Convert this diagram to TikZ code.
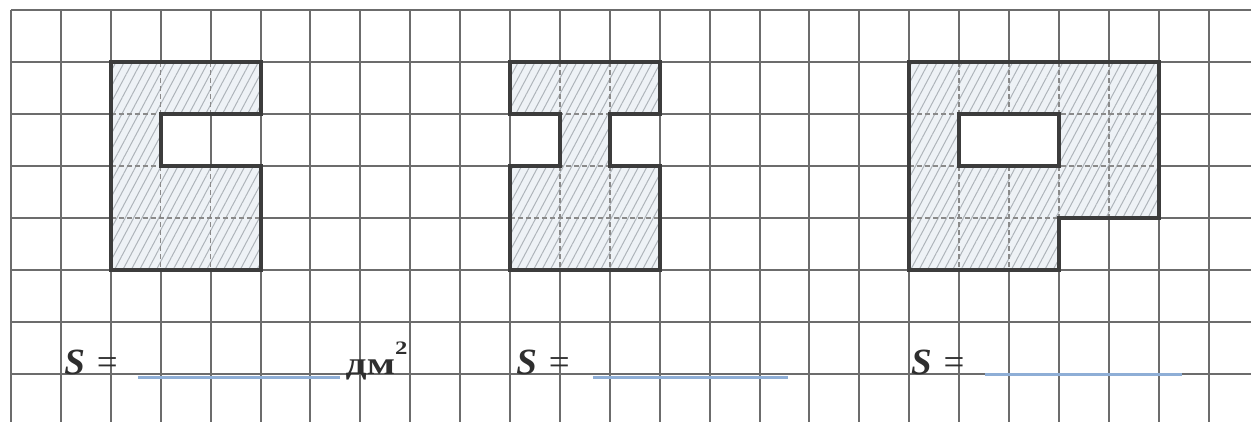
\documentclass[tikz,border=0pt]{standalone}
\usepackage{fontspec}
\setmainfont{Liberation Serif}
\newfontfamily\dmfont[FakeStretch=1.3]{Liberation Serif}
\usetikzlibrary{patterns.meta}
\definecolor{gridc}{HTML}{6C6C6C}
\definecolor{outc}{HTML}{3C3C3C}
\definecolor{textc}{HTML}{2E2E2E}
\definecolor{figbg}{HTML}{EEF2F6}
\definecolor{hatchc}{HTML}{AEB4BA}
\definecolor{dashc}{HTML}{8A8A8A}
\definecolor{blankc}{HTML}{8EAED6}
\begin{document}
\begin{tikzpicture}[x=24.95pt,y=-26pt,
  gridline/.style={draw=gridc,line width=1pt},
  figfill/.style={fill=figbg,postaction={pattern={Lines[angle=62,distance=3.7pt,line width=0.5pt]},pattern color=hatchc}},
  innerline/.style={draw=dashc,line width=0.7pt,dash pattern=on 2.5pt off 1.5pt},
  outline/.style={draw=outc,line width=2pt,line join=miter},
  blank/.style={draw=blankc,line width=1.5pt},
  stext/.style={anchor=base west,inner sep=0pt,font=\fontsize{18.5}{20}\selectfont,text=textc},
  unit/.style={anchor=base west,inner sep=0pt,font=\fontsize{16}{18}\selectfont\bfseries\dmfont,text=textc}]
\useasboundingbox (-0.2204,-0.1923) rectangle (24.849,7.923);
\fill[white] (-0.2204,-0.1923) rectangle (24.849,7.923);
% grid
\foreach \k in {0,...,24} \draw[gridline] (\k,0) -- (\k,7.923);
\foreach \r in {0,...,7} \draw[gridline] (0,\r) -- (24.849,\r);
% figure 1
\path[figfill] (2,1) -- (5,1) -- (5,2) -- (3,2) -- (3,3) -- (5,3) -- (5,5) -- (2,5) -- cycle;
\begin{scope}
  \clip (2,1) -- (5,1) -- (5,2) -- (3,2) -- (3,3) -- (5,3) -- (5,5) -- (2,5) -- cycle;
  \foreach \k in {3,4} \draw[innerline] (\k,1) -- (\k,5);
  \foreach \r in {2,3,4} \draw[innerline] (2,\r) -- (5,\r);
\end{scope}
\draw[outline] (2,1) -- (5,1) -- (5,2) -- (3,2) -- (3,3) -- (5,3) -- (5,5) -- (2,5) -- cycle;
% figure 2
\path[figfill] (10,1) -- (13,1) -- (13,2) -- (12,2) -- (12,3) -- (13,3) -- (13,5) -- (10,5) -- (10,3) -- (11,3) -- (11,2) -- (10,2) -- cycle;
\begin{scope}
  \clip (10,1) -- (13,1) -- (13,2) -- (12,2) -- (12,3) -- (13,3) -- (13,5) -- (10,5) -- (10,3) -- (11,3) -- (11,2) -- (10,2) -- cycle;
  \foreach \k in {11,12} \draw[innerline] (\k,1) -- (\k,5);
  \foreach \r in {2,3,4} \draw[innerline] (10,\r) -- (13,\r);
\end{scope}
\draw[outline] (10,1) -- (13,1) -- (13,2) -- (12,2) -- (12,3) -- (13,3) -- (13,5) -- (10,5) -- (10,3) -- (11,3) -- (11,2) -- (10,2) -- cycle;
% figure 3
\path[figfill] (18,1) -- (23,1) -- (23,4) -- (21,4) -- (21,5) -- (18,5) -- cycle;
\begin{scope}
  \clip (18,1) -- (23,1) -- (23,4) -- (21,4) -- (21,5) -- (18,5) -- cycle;
  \foreach \k in {19,20,21,22} \draw[innerline] (\k,1) -- (\k,5);
  \foreach \r in {2,3,4} \draw[innerline] (18,\r) -- (23,\r);
\end{scope}
\fill[white] (19,2) rectangle (21,3);
\draw[outline] (18,1) -- (23,1) -- (23,4) -- (21,4) -- (21,5) -- (18,5) -- cycle;
\draw[outline] (19,2) rectangle (21,3);
% answer blanks
\coordinate (b1a) at (2.545,7.06);
\coordinate (b1b) at (6.593,7.06);
\coordinate (b2a) at (11.66,7.06);
\coordinate (b2b) at (15.57,7.06);
\coordinate (b3a) at (19.52,7.0);
\coordinate (b3b) at (23.47,7.0);
\draw[blank] (b1a) -- (b1b);
\draw[blank] (b2a) -- (b2b);
\draw[blank] (b3a) -- (b3b);
% labels
\node[stext] (s1) at (1.06,7) {\textbf{\textit{S}}\hspace{6pt}=};
\node[stext] (s2) at (10.12,7) {\textbf{\textit{S}}\hspace{6pt}=};
\node[stext] (s3) at (18.03,7) {\textbf{\textit{S}}\hspace{6pt}=};
\node[unit] (u1) at (6.70,7) {дм\raisebox{10pt}{\fontsize{9.5}{10}\selectfont 2}};
\end{tikzpicture}
\end{document}
